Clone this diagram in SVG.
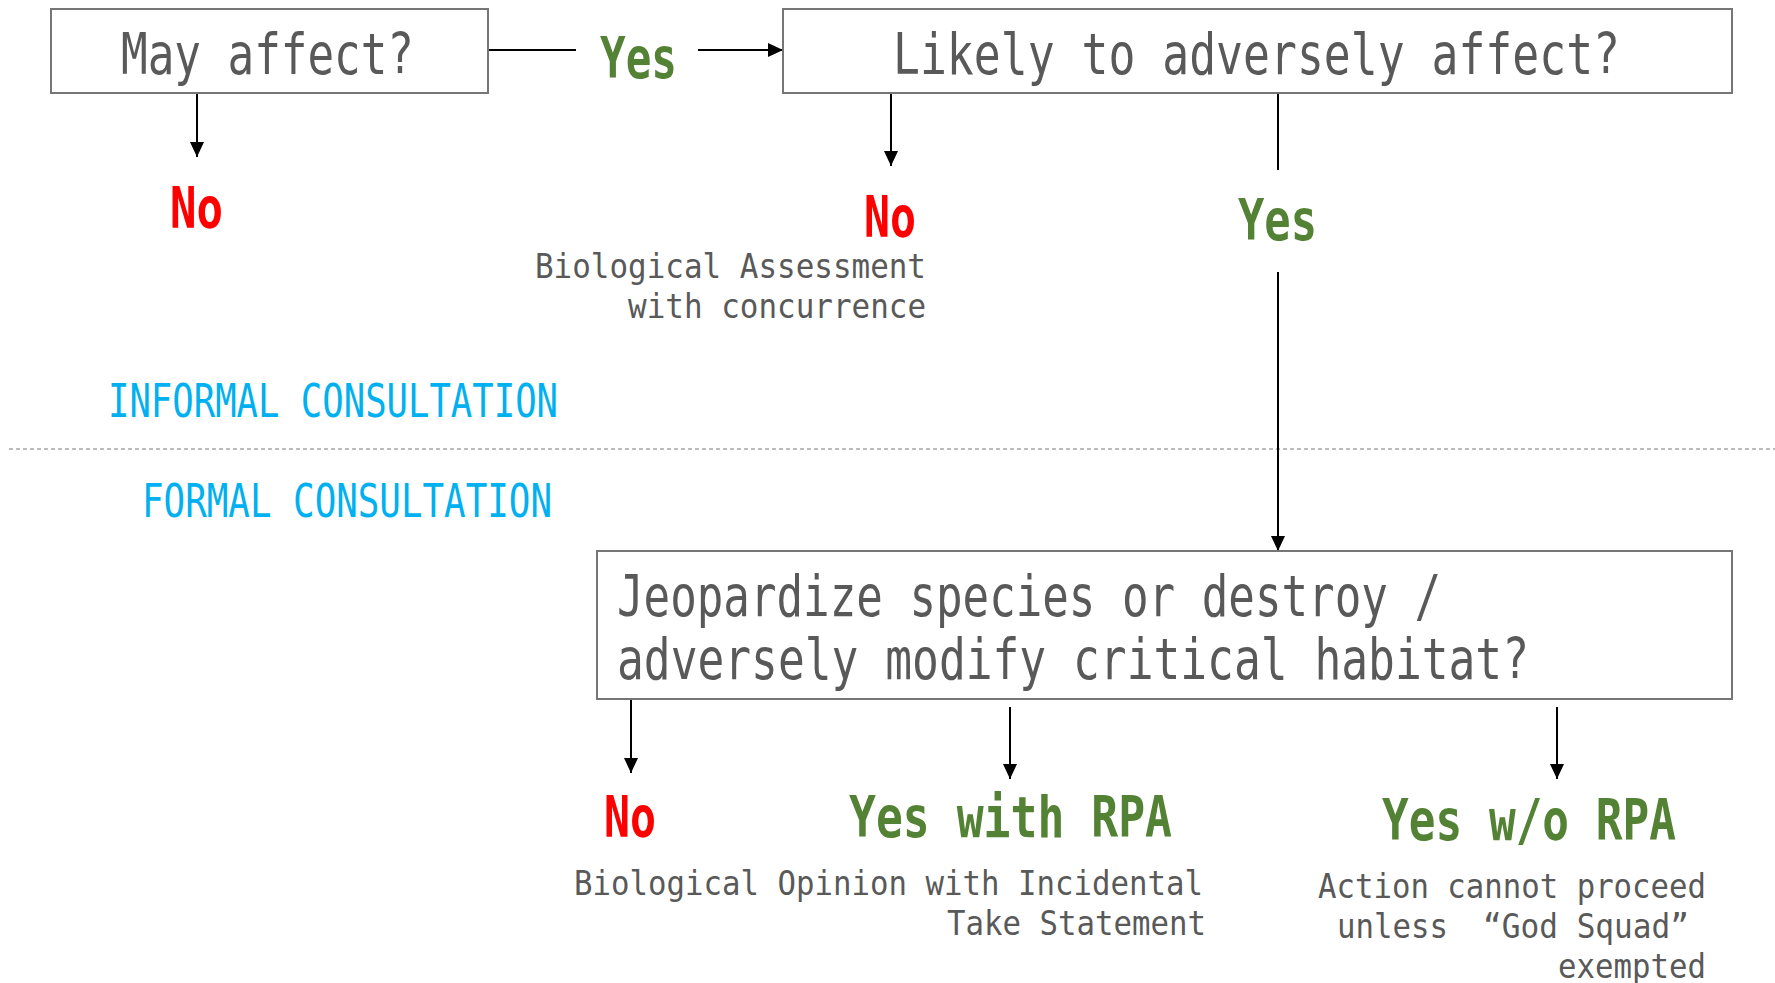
<svg xmlns="http://www.w3.org/2000/svg" width="1775" height="983" viewBox="0 0 1775 983">
  <style>
    text { font-family: "DejaVu Sans Mono", "Liberation Mono", monospace; }
    .box { fill: #ffffff; stroke: #767676; stroke-width: 2; }
    .q { font-size: 44.6px; fill: #595959; }
    .no { font-size: 57px; fill: #FF0000; font-weight: bold; }
    .yes { font-size: 57px; fill: #548235; font-weight: bold; }
    .note { font-size: 34px; fill: #595959; }
    .phase { font-size: 47px; fill: #00B0F0; }
    .conn { stroke: #000000; stroke-width: 2; fill: none; }
    .arrow { stroke: #000000; stroke-width: 2; fill: none; marker-end: url(#head); }
    .divider { stroke: #A6A6A6; stroke-width: 1.5; stroke-dasharray: 4 3; fill: none; }
  </style>
  <defs>
    <marker id="head" viewBox="0 0 15 14" refX="15" refY="7" markerWidth="15" markerHeight="14" markerUnits="userSpaceOnUse" orient="auto">
      <path d="M0,0 L15,7 L0,14 z" fill="#000000"/>
    </marker>
  </defs>
  <rect width="1775" height="983" fill="#ffffff"/>

  <g id="divider">
    <line class="divider" x1="9" y1="449" x2="1775" y2="449"/>
  </g>

  <g id="connectors">
    <line class="conn" x1="488" y1="50" x2="576" y2="50"/>
    <line class="arrow" x1="698" y1="50" x2="783" y2="50"/>
    <line class="arrow" x1="197" y1="93" x2="197" y2="157"/>
    <line class="arrow" x1="891" y1="93" x2="891" y2="166"/>
    <line class="conn" x1="1278" y1="93" x2="1278" y2="170"/>
    <line class="arrow" x1="1278" y1="272" x2="1278" y2="551"/>
    <line class="arrow" x1="631" y1="699" x2="631" y2="773"/>
    <line class="arrow" x1="1010" y1="707" x2="1010" y2="779"/>
    <line class="arrow" x1="1557" y1="707" x2="1557" y2="779"/>
  </g>

  <g id="node-may-affect">
    <rect class="box" x="51" y="9" width="437" height="84"/>
    <text class="q" transform="translate(121 74) scale(1 1.278)" x="0" y="0" textLength="293" lengthAdjust="spacingAndGlyphs">May affect?</text>
  </g>

  <g id="label-yes-1">
    <text class="yes" x="600" y="78" textLength="77" lengthAdjust="spacingAndGlyphs">Yes</text>
  </g>

  <g id="node-likely">
    <rect class="box" x="783" y="9" width="949" height="84"/>
    <text class="q" transform="translate(893 74) scale(1 1.278)" x="0" y="0" textLength="727" lengthAdjust="spacingAndGlyphs">Likely to adversely affect?</text>
  </g>

  <g id="outcome-no-1">
    <text class="no" x="170" y="228" textLength="53" lengthAdjust="spacingAndGlyphs">No</text>
  </g>

  <g id="outcome-no-2">
    <text class="no" x="864" y="237" textLength="52" lengthAdjust="spacingAndGlyphs">No</text>
    <text class="note" x="535" y="278" textLength="391" lengthAdjust="spacingAndGlyphs">Biological Assessment</text>
    <text class="note" x="628" y="318" textLength="298" lengthAdjust="spacingAndGlyphs">with concurrence</text>
  </g>

  <g id="label-yes-2">
    <text class="yes" x="1238" y="240" textLength="79" lengthAdjust="spacingAndGlyphs">Yes</text>
  </g>

  <g id="phase-labels">
    <text class="phase" x="108" y="417" textLength="450" lengthAdjust="spacingAndGlyphs">INFORMAL CONSULTATION</text>
    <text class="phase" x="142" y="517" textLength="410" lengthAdjust="spacingAndGlyphs">FORMAL CONSULTATION</text>
  </g>

  <g id="node-jeopardize">
    <rect class="box" x="597" y="551" width="1135" height="148"/>
    <text class="q" transform="translate(617 616) scale(1 1.278)" x="0" y="0" textLength="824" lengthAdjust="spacingAndGlyphs">Jeopardize species or destroy /</text>
    <text class="q" transform="translate(617 679) scale(1 1.278)" x="0" y="0" textLength="912" lengthAdjust="spacingAndGlyphs">adversely modify critical habitat?</text>
  </g>

  <g id="outcome-no-3">
    <text class="no" x="604" y="837" textLength="52" lengthAdjust="spacingAndGlyphs">No</text>
  </g>

  <g id="outcome-yes-with-rpa">
    <text class="yes" x="849" y="837" textLength="323" lengthAdjust="spacingAndGlyphs">Yes with RPA</text>
    <text class="note" x="574" y="895" textLength="629" lengthAdjust="spacingAndGlyphs">Biological Opinion with Incidental</text>
    <text class="note" x="947" y="935" textLength="259" lengthAdjust="spacingAndGlyphs">Take Statement</text>
  </g>

  <g id="outcome-yes-without-rpa">
    <text class="yes" x="1382" y="840" textLength="294" lengthAdjust="spacingAndGlyphs">Yes w/o RPA</text>
    <text class="note" x="1318" y="898" textLength="388" lengthAdjust="spacingAndGlyphs">Action cannot proceed</text>
    <text class="note" y="938"><tspan x="1337" textLength="111" lengthAdjust="spacingAndGlyphs">unless</tspan> <tspan x="1483" textLength="206" lengthAdjust="spacingAndGlyphs">“God Squad”</tspan></text>
    <text class="note" x="1558" y="978" textLength="148" lengthAdjust="spacingAndGlyphs">exempted</text>
  </g>
</svg>
